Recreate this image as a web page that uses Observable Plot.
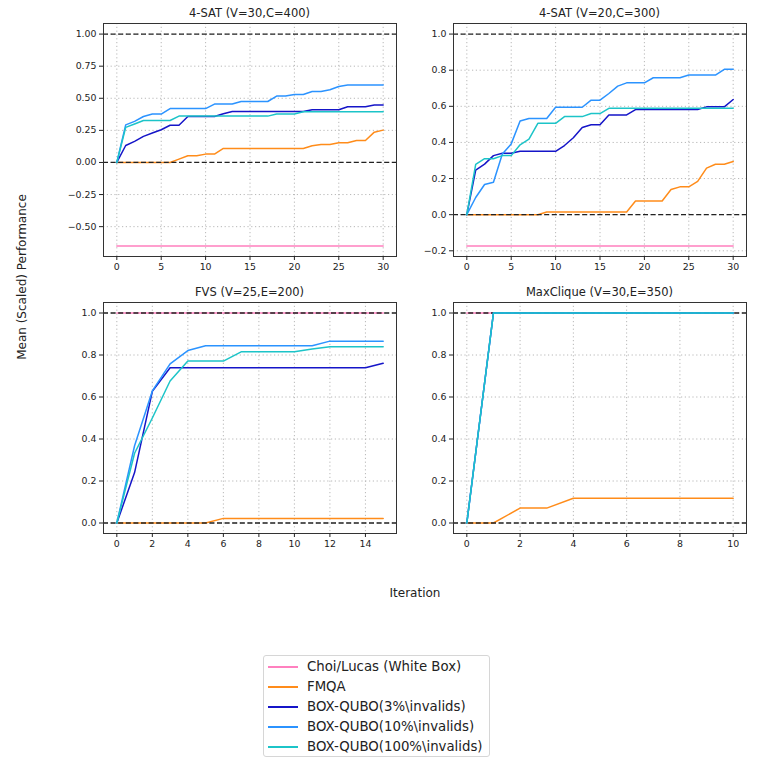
<!DOCTYPE html>
<html><head><meta charset="utf-8">
<script src="https://cdn.jsdelivr.net/npm/d3@7"></script>
<script src="https://cdn.jsdelivr.net/npm/@observablehq/plot@0.6"></script>
<style>
body{margin:0;background:#fff;}
#fig{position:relative;width:784px;height:768px;background:#fff;font-family:"DejaVu Sans",sans-serif;color:#222;overflow:hidden}
.panel{position:absolute}
.txt{position:absolute;transform:translate(-50%,-50%);white-space:nowrap}
.title{font-size:11.5px}
.axlab{font-size:12px}
#legend{position:absolute;left:263px;top:655px;width:227px;height:102px;border:1px solid #d6d6d6;border-radius:3px;box-sizing:border-box;background:#fff}
.lrow{position:absolute;left:0;height:20px;transform:translateY(-50%);width:100%}
.lsw{position:absolute;left:4px;top:9px;width:30px;height:0;border-top:2px solid}
.ltx{position:absolute;left:43px;top:1px;font-size:13.3px;line-height:18px;white-space:nowrap}
</style>
</head><body>
<div id="fig"></div>
<script>
// ---------- series meta ----------
const seriesNames = ["Choi/Lucas (White Box)", "FMQA", "BOX-QUBO(3%\\invalids)", "BOX-QUBO(10%\\invalids)", "BOX-QUBO(100%\\invalids)"];
const seriesColors = ["#ff80bf", "#ff8c1a", "#1515c8", "#2b93ff", "#1cc4c8"];

// ---------- panel titles ----------
const panelTitles = ["4-SAT (V=30,C=400)", "4-SAT (V=20,C=300)", "FVS (V=25,E=200)", "MaxClique (V=30,E=350)"];

// ---------- iterations ----------
const iter30 = [0,1,2,3,4,5,6,7,8,9,10,11,12,13,14,15,16,17,18,19,20,21,22,23,24,25,26,27,28,29,30];
const iter15 = [0,1,2,3,4,5,6,7,8,9,10,11,12,13,14,15];
const iter10 = [0,1,2,3,4,5,6,7,8,9,10];

// ---------- 4-SAT (V=30,C=400) ----------
const sat30_choiX = [0, 30];
const sat30_choi  = [-0.65, -0.65];
const sat30_fmqa  = [0,0,0,0,0,0,0,.026,.052,.052,.065,.065,.109,.109,.109,.109,.109,.109,.109,.109,.109,.109,.13,.14,.14,.153,.153,.171,.171,.236,.252];
const sat30_b3    = [0,.132,.164,.203,.229,.255,.29,.29,.358,.358,.358,.358,.38,.397,.397,.397,.397,.397,.397,.397,.397,.397,.41,.41,.41,.41,.434,.434,.434,.447,.447];
const sat30_b10   = [0,.293,.32,.358,.377,.377,.42,.42,.42,.42,.42,.455,.455,.455,.475,.475,.475,.475,.517,.517,.53,.53,.553,.553,.566,.592,.603,.603,.603,.603,.603];
const sat30_b100  = [0,.273,.30,.327,.327,.327,.327,.361,.361,.361,.361,.361,.361,.361,.361,.361,.361,.361,.377,.377,.377,.395,.395,.395,.395,.395,.395,.395,.395,.395,.395];

// ---------- 4-SAT (V=20,C=300) ----------
const sat20_choiX = [0, 30];
const sat20_choi  = [-0.173, -0.173];
const sat20_fmqa  = [0,0,0,0,0,0,0,0,0,.015,.015,.015,.015,.015,.015,.015,.015,.015,.015,.076,.076,.076,.076,.139,.154,.154,.184,.258,.279,.279,.294];
const sat20_b3    = [0,.247,.28,.327,.34,.34,.351,.351,.351,.351,.351,.383,.426,.483,.498,.498,.552,.552,.552,.582,.582,.582,.582,.582,.582,.582,.582,.597,.597,.597,.638];
const sat20_b10   = [0,.095,.167,.18,.336,.392,.519,.533,.533,.533,.595,.595,.595,.595,.634,.634,.671,.712,.73,.73,.73,.758,.758,.758,.758,.773,.773,.773,.773,.805,.805];
const sat20_b100  = [0,.279,.31,.31,.327,.327,.387,.418,.506,.506,.506,.543,.543,.543,.56,.56,.589,.589,.589,.589,.589,.589,.589,.589,.589,.589,.589,.589,.589,.589,.589];

// ---------- FVS (V=25,E=200) ----------
const fvs_choiX = [0, 15];
const fvs_choi  = [1, 1];
const fvs_fmqa  = [0,0,0,0,0,0,.022,.022,.022,.022,.022,.022,.022,.022,.022,.022];
const fvs_b3    = [0,.24,.627,.739,.739,.739,.739,.739,.739,.739,.739,.739,.739,.739,.739,.761];
const fvs_b10   = [0,.368,.629,.758,.821,.844,.844,.844,.844,.844,.844,.844,.866,.866,.866,.866];
const fvs_b100  = [0,.332,.5,.676,.771,.771,.771,.815,.815,.815,.815,.829,.839,.839,.839,.839];

// ---------- MaxClique (V=30,E=350) ----------
const mc_choiX = [0, 10];
const mc_choi  = [1, 1];
const mc_fmqa  = [0,0,.071,.071,.118,.118,.118,.118,.118,.118,.118];
const mc_b3    = [0,1,1,1,1,1,1,1,1,1,1];
const mc_b10   = [0,1,1,1,1,1,1,1,1,1,1];
const mc_b100  = [0,1,1,1,1,1,1,1,1,1,1];

// ---------- tick labels ----------
const xTicks30 = [0,5,10,15,20,25,30];
const xTicks15 = [0,2,4,6,8,10,12,14];
const xTicks10 = [0,2,4,6,8,10];
const yTicksSat30 = [-0.5,-0.25,0,0.25,0.5,0.75,1];
const yTicksSat20 = [-0.2,0,0.2,0.4,0.6,0.8,1];
const yTicks01 = [0,0.2,0.4,0.6,0.8,1];

// ---------- text ----------
const xLabel = "Iteration";
const yLabel = "Mean (Scaled) Performance";

const fmt = (dec) => (d) => d.toFixed(dec).replace("-", "\u2212");

const panels = [
  {title: panelTitles[0], left: 53, top: 18, fh: 233, iter: iter30, choiX: sat30_choiX, choi: sat30_choi,
   series: [sat30_fmqa, sat30_b3, sat30_b10, sat30_b100], xDomain: [-1.5, 31.5], yDomain: [-0.7325, 1.0825],
   xTicks: xTicks30, yTicks: yTicksSat30, yFmt: fmt(2)},
  {title: panelTitles[1], left: 403, top: 18, fh: 233, iter: iter30, choiX: sat20_choiX, choi: sat20_choi,
   series: [sat20_fmqa, sat20_b3, sat20_b10, sat20_b100], xDomain: [-1.5, 31.5], yDomain: [-0.2315, 1.0585],
   xTicks: xTicks30, yTicks: yTicksSat20, yFmt: fmt(1)},
  {title: panelTitles[2], left: 53, top: 297, fh: 231, iter: iter15, choiX: fvs_choiX, choi: fvs_choi,
   series: [fvs_fmqa, fvs_b3, fvs_b10, fvs_b100], xDomain: [-0.75, 15.75], yDomain: [-0.05, 1.05],
   xTicks: xTicks15, yTicks: yTicks01, yFmt: fmt(1)},
  {title: panelTitles[3], left: 403, top: 297, fh: 231, iter: iter10, choiX: mc_choiX, choi: mc_choi,
   series: [mc_fmqa, mc_b3, mc_b10, mc_b100], xDomain: [-0.5, 10.5], yDomain: [-0.05, 1.05],
   xTicks: xTicks10, yTicks: yTicks01, yFmt: fmt(1)}
];

const fig = document.getElementById("fig");
const ML = 50, MR = 10, MT = 5, MB = 30, FW = 293;

function rowsOf(xs, ys) { return ys.map((y, i) => ({x: xs[i], y})); }

panels.forEach(p => {
  const lineOpts = (k) => ({x: "x", y: "y", stroke: seriesColors[k], strokeWidth: 1.5, curve: "linear"});
  const gridStyle = {stroke: "#b0b0b0", strokeOpacity: 1, strokeWidth: 0.9, strokeDasharray: "1.2,2.6"};
  const chart = Plot.plot({
    width: FW + ML + MR,
    height: p.fh + MT + MB,
    marginLeft: ML, marginRight: MR, marginTop: MT, marginBottom: MB,
    x: {domain: p.xDomain, label: null},
    y: {domain: p.yDomain, label: null},
    style: {fontFamily: "DejaVu Sans", fontSize: "9.4px", color: "#222", background: "transparent", overflow: "visible"},
    marks: [
      Plot.gridX({ticks: p.xTicks, ...gridStyle}),
      Plot.gridY({ticks: p.yTicks, ...gridStyle}),
      Plot.line(rowsOf(p.choiX, p.choi), lineOpts(0)),
      Plot.line(rowsOf(p.iter, p.series[0]), lineOpts(1)),
      Plot.ruleY([0, 1], {stroke: "#222", strokeWidth: 1.3, strokeDasharray: "5,2.6"}),
      Plot.line(rowsOf(p.iter, p.series[1]), lineOpts(2)),
      Plot.line(rowsOf(p.iter, p.series[2]), lineOpts(3)),
      Plot.line(rowsOf(p.iter, p.series[3]), lineOpts(4)),
      Plot.frame({stroke: "#333", strokeWidth: 1}),
      Plot.axisX({ticks: p.xTicks, tickSize: 4, tickPadding: 3, tickFormat: d => String(d), label: null}),
      Plot.axisY({ticks: p.yTicks, tickSize: 4, tickPadding: 3, tickFormat: p.yFmt, label: null})
    ]
  });
  chart.classList.add("panel");
  chart.style.left = p.left + "px";
  chart.style.top = p.top + "px";
  fig.appendChild(chart);

  const t = document.createElement("div");
  t.className = "txt title";
  t.textContent = p.title;
  t.style.left = (p.left + ML + FW / 2) + "px";
  t.style.top = (p.top - 5) + "px";
  fig.appendChild(t);
});

// axis labels
const xl = document.createElement("div");
xl.className = "txt axlab"; xl.textContent = xLabel;
xl.style.left = "415px"; xl.style.top = "593px";
fig.appendChild(xl);
const yl = document.createElement("div");
yl.className = "txt axlab"; yl.textContent = yLabel;
yl.style.left = "22px"; yl.style.top = "277px";
yl.style.transform = "translate(-50%,-50%) rotate(-90deg)";
fig.appendChild(yl);

// legend
const leg = document.createElement("div");
leg.id = "legend";
seriesNames.forEach((name, i) => {
  const r = document.createElement("div");
  r.className = "lrow";
  r.style.top = (11 + 20 * i) + "px";
  const sw = document.createElement("div");
  sw.className = "lsw"; sw.style.borderTopColor = seriesColors[i];
  const tx = document.createElement("div");
  tx.className = "ltx"; tx.textContent = name;
  r.appendChild(sw); r.appendChild(tx);
  leg.appendChild(r);
});
fig.appendChild(leg);
</script>
</body></html>
